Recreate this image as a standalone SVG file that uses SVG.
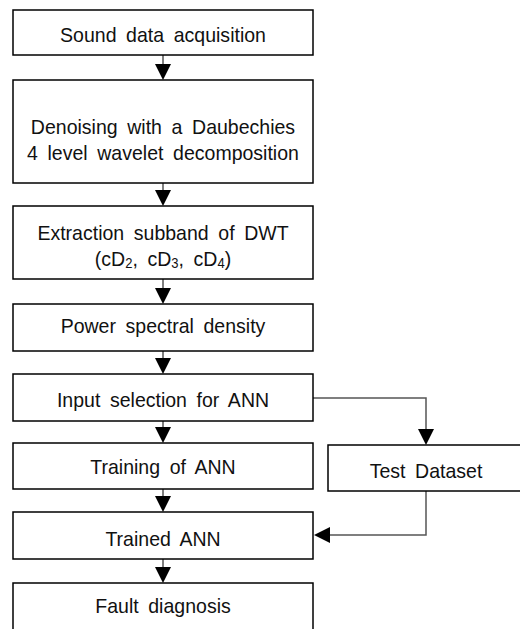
<svg xmlns="http://www.w3.org/2000/svg" width="520" height="629" viewBox="0 0 520 629">
  <defs>
    <style>
      .box { fill: #ffffff; stroke: #000000; stroke-width: 1.5; }
      .lbl { font-family: "Liberation Sans", Arial, sans-serif; font-size: 21px; fill: #111111; text-anchor: middle; word-spacing: 4.5px; }
      .sub { font-size: 14px; }
      .wire { fill: none; stroke: #555555; stroke-width: 1.5; }
      .head { fill: #000000; }
    </style>
  </defs>
  <rect width="520" height="629" fill="#ffffff"/>

  <g id="connectors">
    <!-- main vertical flow -->
    <line class="wire" x1="163" y1="55" x2="163" y2="66"/>
    <polygon class="head" points="155,64 171,64 163,80"/>
    <line class="wire" x1="163" y1="183" x2="163" y2="192"/>
    <polygon class="head" points="155,190 171,190 163,206"/>
    <line class="wire" x1="163" y1="279" x2="163" y2="290"/>
    <polygon class="head" points="155,288 171,288 163,304"/>
    <line class="wire" x1="163" y1="351" x2="163" y2="360"/>
    <polygon class="head" points="155,358 171,358 163,374"/>
    <line class="wire" x1="163" y1="421" x2="163" y2="429"/>
    <polygon class="head" points="155,427 171,427 163,443"/>
    <line class="wire" x1="163" y1="489" x2="163" y2="498"/>
    <polygon class="head" points="155,496 171,496 163,512"/>
    <line class="wire" x1="163" y1="559" x2="163" y2="569"/>
    <polygon class="head" points="155,567 171,567 163,583"/>
    <!-- branch to test dataset -->
    <polyline class="wire" points="313,398 426,398 426,431"/>
    <polygon class="head" points="418,429 434,429 426,445"/>
    <!-- test dataset into trained ANN -->
    <polyline class="wire" points="426,491 426,535 328,535"/>
    <polygon class="head" points="330,527 330,543 314,535"/>
  </g>

  <g id="sound-data-acquisition">
    <rect class="box" x="13" y="10" width="300" height="45"/>
    <text class="lbl" transform="translate(163 42) scale(0.93 1)">Sound data acquisition</text>
  </g>

  <g id="denoising">
    <rect class="box" x="13" y="80" width="300" height="103"/>
    <text class="lbl" transform="translate(163 134) scale(0.93 1)">Denoising with a Daubechies</text>
    <text class="lbl" transform="translate(163 160) scale(0.93 1)">4 level wavelet decomposition</text>
  </g>

  <g id="subband-extraction">
    <rect class="box" x="13" y="206" width="300" height="73"/>
    <text class="lbl" transform="translate(163 240) scale(0.93 1)">Extraction subband of DWT</text>
    <text class="lbl" transform="translate(163 266) scale(0.93 1)">(cD<tspan class="sub" dy="2">2</tspan><tspan dy="-2">, cD</tspan><tspan class="sub" dy="2">3</tspan><tspan dy="-2">, cD</tspan><tspan class="sub" dy="2">4</tspan><tspan dy="-2">)</tspan></text>
  </g>

  <g id="power-spectral-density">
    <rect class="box" x="13" y="304" width="300" height="47"/>
    <text class="lbl" transform="translate(163 333) scale(0.93 1)">Power spectral density</text>
  </g>

  <g id="input-selection">
    <rect class="box" x="13" y="374" width="300" height="47"/>
    <text class="lbl" transform="translate(163 407) scale(0.93 1)">Input selection for ANN</text>
  </g>

  <g id="training">
    <rect class="box" x="13" y="443" width="300" height="46"/>
    <text class="lbl" transform="translate(163 474) scale(0.93 1)">Training of ANN</text>
  </g>

  <g id="test-dataset">
    <rect class="box" x="328" y="445" width="210" height="46"/>
    <text class="lbl" transform="translate(426 478) scale(0.93 1)">Test Dataset</text>
  </g>

  <g id="trained-ann">
    <rect class="box" x="13" y="512" width="300" height="47"/>
    <text class="lbl" transform="translate(163 546) scale(0.93 1)">Trained ANN</text>
  </g>

  <g id="fault-diagnosis">
    <rect class="box" x="13" y="583" width="300" height="60"/>
    <text class="lbl" transform="translate(163 613) scale(0.93 1)">Fault diagnosis</text>
  </g>
</svg>
